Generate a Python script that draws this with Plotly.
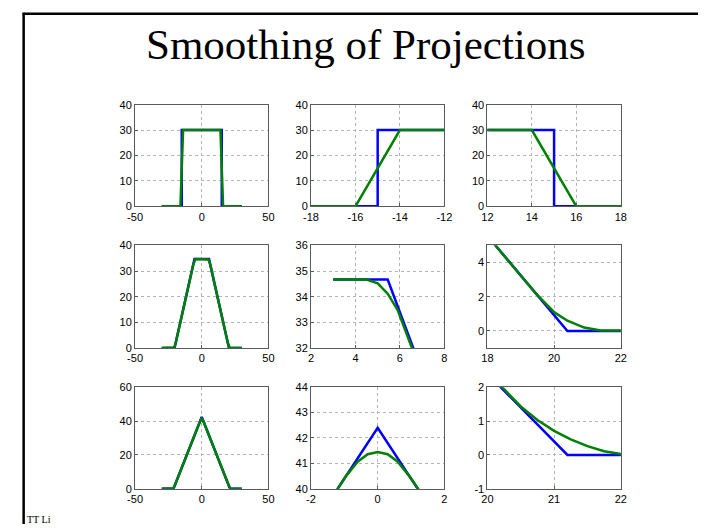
import plotly.graph_objects as go

# ---------------- data ----------------
# Row 1: box projection (blue) and its smoothed version (green)
r1_blue_x = [-30, -15, -15, 15, 15, 30]
r1_blue_y = [0, 0, 30, 30, 0, 0]
r1_green_x = [-30, -16, -14, 14, 16, 30]
r1_green_y = [0, 0, 30, 30, 0, 0]

# Row 2: trapezoid projection (blue) and smoothed version (green)
r2_blue_x = [-30, -20.4, -5.45, 5.45, 20.4, 30]
r2_blue_y = [0, 0, 34.67, 34.67, 0, 0]
r2_green_x = [-30, -21.8, -21.4, -20.9, -20.4, -20.0, -19.45, -6.4, -5.9, -5.45, -5.0, -4.5,
              4.5, 5.0, 5.45, 5.9, 6.4, 19.45, 20.0, 20.4, 20.9, 21.4, 21.8, 30]
r2_green_y = [0, 0, 0.03, 0.2, 0.6, 1.1, 2.2, 32.47, 33.48, 34.12, 34.52, 34.67,
              34.67, 34.52, 34.12, 33.48, 32.47, 2.2, 1.1, 0.6, 0.2, 0.03, 0, 0]

# Row 2, middle panel (data starts at x = 3)
r2m_blue_x = [3, 5.45, 20.4]
r2m_blue_y = [34.67, 34.67, 0]
r2m_green_x = [3, 4.5, 5.0, 5.45, 5.9, 6.4, 19.45]
r2m_green_y = [34.67, 34.67, 34.52, 34.12, 33.48, 32.47, 2.2]

# Row 3: triangle projection (blue) and smoothed version (green)
r3_blue_x = [-30, -21.2, 0, 21.2, 30]
r3_blue_y = [0, 0, 42.4, 0, 0]
r3_green_x = [-30, -22.3, -22.0, -21.75, -21.5, -21.25, -21.0, -20.75, -20.5, -20.25,
              -0.95, -0.6, -0.3, 0, 0.3, 0.6, 0.95,
              20.25, 20.5, 20.75, 21.0, 21.25, 21.5, 21.75, 22.0, 22.3, 30]
r3_green_y = [0, 0, 0.03, 0.11, 0.26, 0.46, 0.71, 1.03, 1.43, 1.94,
              40.5, 41.07, 41.36, 41.45, 41.36, 41.07, 40.5,
              1.94, 1.43, 1.03, 0.71, 0.46, 0.26, 0.11, 0.03, 0, 0]

# axis ranges and ticks per panel (row-major)
x_ranges = [[-50, 50], [-18, -12], [12, 18],
            [-50, 50], [2, 8], [18, 22],
            [-50, 50], [-2, 2], [20, 22]]
x_ticks = [[-50, 0, 50], [-18, -16, -14, -12], [12, 14, 16, 18],
           [-50, 0, 50], [2, 4, 6, 8], [18, 20, 22],
           [-50, 0, 50], [-2, 0, 2], [20, 21, 22]]
y_ranges = [[0, 40], [0, 40], [0, 40],
            [0, 40], [32, 36], [-1, 5],
            [0, 60], [40, 44], [-1, 2]]
y_ticks = [[0, 10, 20, 30, 40], [0, 10, 20, 30, 40], [0, 10, 20, 30, 40],
           [0, 10, 20, 30, 40], [32, 33, 34, 35, 36], [0, 2, 4],
           [0, 20, 40, 60], [40, 41, 42, 43, 44], [-1, 0, 1, 2]]

panel_data = [
    (r1_blue_x, r1_blue_y, r1_green_x, r1_green_y),
    (r1_blue_x, r1_blue_y, r1_green_x, r1_green_y),
    (r1_blue_x, r1_blue_y, r1_green_x, r1_green_y),
    (r2_blue_x, r2_blue_y, r2_green_x, r2_green_y),
    (r2m_blue_x, r2m_blue_y, r2m_green_x, r2m_green_y),
    (r2_blue_x, r2_blue_y, r2_green_x, r2_green_y),
    (r3_blue_x, r3_blue_y, r3_green_x, r3_green_y),
    (r3_blue_x, r3_blue_y, r3_green_x, r3_green_y),
    (r3_blue_x, r3_blue_y, r3_green_x, r3_green_y),
]

title_text = "Smoothing of Projections"
author_text = "TT Li"

# ---------------- layout geometry ----------------
W, H = 706, 530
col_px = [(130, 266.5), (310, 446.5), (490.5, 627)]
row_px = [(101, 205), (245, 350), (390, 494)]

BLUE = "#0000FF"
GREEN = "#008000"
AXC = "#5a5a5a"
GRIDC = "#b4b4b4"
TICKFONT = dict(family="Liberation Sans, Arial, sans-serif", size=11, color="#000000")

fig = go.Figure()
layout = dict(
    width=W, height=H,
    margin=dict(l=0, r=0, t=0, b=0),
    paper_bgcolor="white", plot_bgcolor="white",
    showlegend=False,
)

for i in range(9):
    r, c = divmod(i, 3)
    n = i + 1
    xa = "x" if n == 1 else f"x{n}"
    ya = "y" if n == 1 else f"y{n}"
    bx, by, gx, gy = panel_data[i]
    fig.add_trace(go.Scatter(x=bx, y=by, mode="lines", xaxis=xa, yaxis=ya,
                             line=dict(color=BLUE, width=2.5), hoverinfo="skip"))
    fig.add_trace(go.Scatter(x=gx, y=gy, mode="lines", xaxis=xa, yaxis=ya,
                             line=dict(color=GREEN, width=2.5), hoverinfo="skip"))
    x0, x1 = col_px[c]
    y0, y1 = row_px[r]
    common = dict(showline=True, linecolor=AXC, linewidth=1, mirror=True,
                  showgrid=True, gridcolor=GRIDC, griddash="dot", gridwidth=1,
                  zeroline=False, ticks="inside", ticklen=3, tickcolor=AXC,
                  tickfont=TICKFONT, fixedrange=True)
    layout["xaxis" if n == 1 else f"xaxis{n}"] = dict(
        domain=[x0 / W, x1 / W], range=x_ranges[i], tickvals=x_ticks[i],
        ticktext=[str(v) for v in x_ticks[i]], anchor=ya, **common)
    layout["yaxis" if n == 1 else f"yaxis{n}"] = dict(
        domain=[1 - y1 / H, 1 - y0 / H], range=y_ranges[i], tickvals=y_ticks[i],
        ticktext=[str(v) for v in y_ticks[i]], anchor=xa, **common)

layout["annotations"] = [
    dict(text=title_text, x=366 / W, y=1 - 39 / H, xref="paper", yref="paper",
         xanchor="center", yanchor="middle", showarrow=False,
         font=dict(family="Liberation Serif, Times New Roman, serif", size=43, color="black")),
    dict(text=author_text, x=17 / W, y=1 - 525 / H, xref="paper", yref="paper",
         xanchor="left", yanchor="middle", showarrow=False,
         font=dict(family="Liberation Serif, Times New Roman, serif", size=10, color="black")),
]
layout["shapes"] = [
    dict(type="line", xref="paper", yref="paper", x0=15 / W, x1=1, y0=1 - 8 / H, y1=1 - 8 / H,
         line=dict(color="black", width=2.5)),
    dict(type="line", xref="paper", yref="paper", x0=16 / W, x1=16 / W, y0=1 - 7 / H, y1=0,
         line=dict(color="black", width=2.5)),
]

fig.update_layout(**layout)
fig.write_html("out.html",
               config={"displayModeBar": False},
               post_script="document.body.style.margin='0px';"
                           "document.documentElement.style.overflow='hidden';"
                           "document.body.style.overflow='hidden';")
